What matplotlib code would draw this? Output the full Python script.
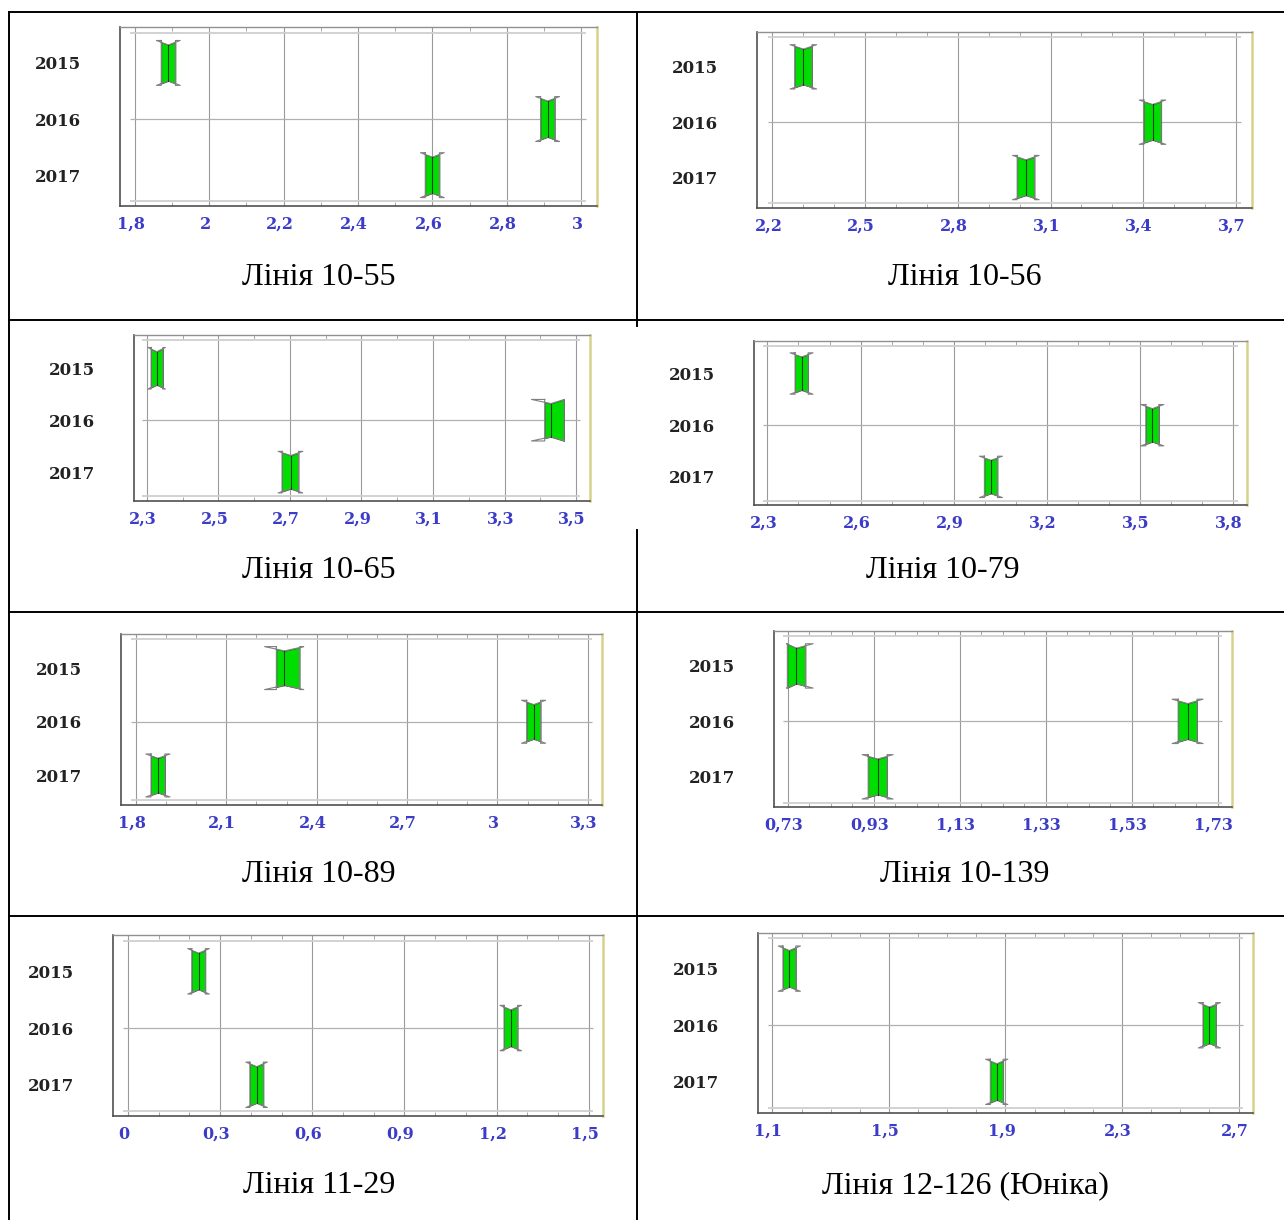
import numpy as np
import matplotlib.pyplot as plt
from matplotlib.ticker import AutoMinorLocator
from matplotlib.lines import Line2D
from matplotlib.transforms import ScaledTranslation

W, H = 1284, 1220

years = ["2015", "2016", "2017"]
captions = ["Лінія 10-55", "Лінія 10-56", "Лінія 10-65", "Лінія 10-79",
            "Лінія 10-89", "Лінія 10-139", "Лінія 11-29", "Лінія 12-126 (Юніка)"]

xticks = [
    [1.8, 2.0, 2.2, 2.4, 2.6, 2.8, 3.0],
    [2.2, 2.5, 2.8, 3.1, 3.4, 3.7],
    [2.3, 2.5, 2.7, 2.9, 3.1, 3.3, 3.5],
    [2.3, 2.6, 2.9, 3.2, 3.5, 3.8],
    [1.8, 2.1, 2.4, 2.7, 3.0, 3.3],
    [0.73, 0.93, 1.13, 1.33, 1.53, 1.73],
    [0.0, 0.3, 0.6, 0.9, 1.2, 1.5],
    [1.1, 1.5, 1.9, 2.3, 2.7],
]

# values per panel for 2015, 2016, 2017
medians = [
    [1.890, 2.910, 2.600],
    [2.300, 3.430, 3.020],
    [2.328, 3.429, 2.702],
    [2.410, 3.540, 3.020],
    [2.293, 3.120, 1.873],
    [0.750, 1.660, 0.939],
    [0.230, 1.246, 0.419],
    [1.158, 2.600, 1.870],
]
box_lo = [
    [1.871, 2.891, 2.581],
    [2.272, 3.402, 2.992],
    [2.312, 3.412, 2.678],
    [2.389, 3.519, 2.999],
    [2.266, 3.097, 1.850],
    [0.729, 1.638, 0.917],
    [0.208, 1.224, 0.397],
    [1.136, 2.578, 1.848],
]
box_hi = [
    [1.909, 2.929, 2.619],
    [2.328, 3.458, 3.048],
    [2.345, 3.466, 2.724],
    [2.431, 3.561, 3.041],
    [2.343, 3.143, 1.896],
    [0.771, 1.682, 0.961],
    [0.252, 1.268, 0.441],
    [1.180, 2.622, 1.892],
]
notch_lo = [
    [1.858, 2.878, 2.568],
    [2.257, 3.387, 2.977],
    [2.303, 3.375, 2.667],
    [2.373, 3.503, 2.983],
    [2.227, 3.080, 1.833],
    [0.727, 1.624, 0.903],
    [0.195, 1.211, 0.384],
    [1.120, 2.562, 1.832],
]
notch_hi = [
    [1.922, 2.942, 2.632],
    [2.343, 3.473, 3.063],
    [2.352, 3.467, 2.736],
    [2.447, 3.577, 3.057],
    [2.357, 3.160, 1.913],
    [0.789, 1.696, 0.975],
    [0.265, 1.281, 0.454],
    [1.196, 2.638, 1.908],
]

# layout (pixels): frame left, top, right, bottom
frames = [
    (119.6, 27.3, 596.7, 206.0),
    (756.7, 31.7, 1251.7, 208.0),
    (133.9, 335.3, 589.8, 500.7),
    (753.8, 340.7, 1246.7, 505.3),
    (121.2, 634.0, 602.0, 805.0),
    (773.6, 630.7, 1231.9, 807.3),
    (113.1, 935.3, 603.3, 1116.0),
    (757.9, 932.7, 1252.5, 1113.0),
]
xlims = [(1.759, 3.042), (2.149, 3.751), (2.264, 3.538), (2.256, 3.844),
         (1.751, 3.347), (0.697, 1.763), (-0.048, 1.547), (1.050, 2.748)]
minor_n = [2, 3, 2, 3, 3, 4, 3, 4]
caption_xy = [(319, 285), (965, 285), (319, 578), (943, 578),
              (319, 882), (965, 882), (319, 1193), (965, 1193)]

fig = plt.figure(figsize=(W / 100, H / 100), dpi=100)
fig.patch.set_facecolor("white")


def fig_line(x0, y0, x1, y1):
    fig.add_artist(Line2D([x0 / W, x1 / W], [1 - y0 / H, 1 - y1 / H],
                          transform=fig.transFigure, color="black", lw=1.4))


# table grid
fig_line(9, 12, W, 12)
for yy in (320, 612, 916):
    fig_line(9, yy, W, yy)
fig_line(9, 12, 9, H)
fig_line(636.5, 12, 636.5, 326)
fig_line(636.5, 530, 636.5, H)

h, cap = 0.4, 0.8
axes = []
for i in range(8):
    l, t, r, b = frames[i]
    ax = fig.add_axes([l / W, 1 - b / H, (r - l) / W, (b - t) / H])
    axes.append(ax)
    ax.set_xlim(*xlims[i])
    ax.set_ylim(2.55, -0.635)

    ticks = xticks[i]
    ax.set_xticks(ticks)
    ax.set_xticklabels([f"{v:g}".replace(".", ",") for v in ticks],
                       color="#3c3cc8", fontfamily="DejaVu Serif",
                       fontweight="bold", fontsize=11.5)
    ax.set_yticks([0, 1, 2])
    ax.set_yticklabels(years, fontfamily="DejaVu Serif", fontweight="bold",
                       fontsize=12, color="#222222")
    ax.tick_params(axis="y", length=0, pad=28)
    ax.tick_params(axis="x", which="major", length=0, pad=7)
    ax.xaxis.set_minor_locator(AutoMinorLocator(minor_n[i]))
    ax.tick_params(axis="x", which="minor", direction="in", length=3,
                   color="#999999", top=True, bottom=True)

    ax.grid(axis="x", color="#9a9a9a", lw=0.8)
    span = ticks[-1] - ticks[0]
    gx0, gx1 = ticks[0] - 0.01 * span, ticks[-1] + 0.01 * span
    ax.hlines([1], gx0, gx1, color="#b0b0b0", lw=0.9)
    ax.hlines([-0.54, 2.465], gx0, gx1, color="#cfcfcf", lw=1.3)

    for side, col, lw in (("left", "#505050", 1.2), ("bottom", "#505050", 1.2),
                          ("top", "#909090", 1.0), ("right", "#d6d28c", 1.8)):
        ax.spines[side].set_color(col)
        ax.spines[side].set_linewidth(lw)

    for j in range(3):
        m = medians[i][j]
        q1, q3 = box_lo[i][j], box_hi[i][j]
        lo, hi = notch_lo[i][j], notch_hi[i][j]
        xs = np.linspace(q1, q3, 40)
        half = np.interp(xs, [lo, m, hi], [h, cap * h, h])
        ax.fill_between(xs, j - half, j + half, color="#00dd00",
                        ec="#2e5e2e", lw=0.6, zorder=3)
        ox = [q1, lo, m, hi, q3, q3, hi, m, lo, q1, q1]
        oy = [j - h, j - h, j - cap * h, j - h, j - h, j + h, j + h,
              j + cap * h, j + h, j + h, j - h]
        ax.plot(ox, oy, color="#808080", lw=0.8, zorder=4)
        ax.plot([m, m], [j - cap * h, j + cap * h], color="#1d3d1d",
                lw=0.8, zorder=5)

    cx, cy = caption_xy[i]
    fig.text(cx / W, 1 - cy / H, captions[i], ha="center", va="baseline",
             fontfamily="Liberation Serif", fontsize=23, color="black")

# x labels sit a few pixels left of their grid lines
fig.canvas.draw()
shift = ScaledTranslation(-0.04, 0, fig.dpi_scale_trans)
for ax in axes:
    for tick in ax.xaxis.get_major_ticks():
        tick.label1.set_transform(tick.label1.get_transform() + shift)

fig.savefig("out.png", dpi=100)
